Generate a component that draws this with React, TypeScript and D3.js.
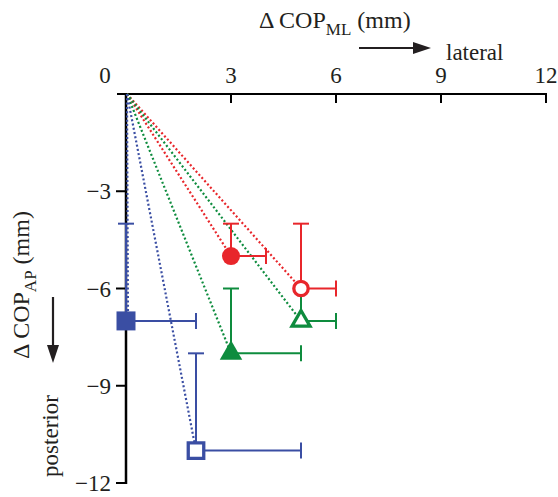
import React from "react";
import * as d3 from "d3";

const seriesNames = ["redFilled", "redOpen", "greenFilled", "greenOpen", "blueFilled", "blueOpen"];
const mlMean = [3, 5, 3, 5, 0, 2];
const apMean = [-5, -6, -8, -7, -7, -11];
const mlErr = [1, 1, 2, 1, 2, 3];
const apErr = [1, 2, 2, 1, 3, 3];
const seriesColor = ["#e8262b", "#e8262b", "#0e8c3e", "#0e8c3e", "#3a4ea3", "#3a4ea3"];
const seriesShape = ["circle", "circle", "triangle", "triangle", "square", "square"];
const seriesFilled = [true, false, true, false, true, false];
const xTicks = [0, 3, 6, 9, 12];
const yTicks = [-3, -6, -9, -12];

const W = 558;
const H = 497;
const FONT = "Liberation Serif, Times New Roman, serif";
const FS = 23;
const TFS = 24;
const SUB = 17;

export default function App() {
  const x = d3.scaleLinear().domain([0, 12]).range([126, 546]);
  const y = d3.scaleLinear().domain([0, -12]).range([94, 483]);
  const x0 = x(0);
  const y0 = y(0);

  const symbolPath = (shape: string, filled: boolean) => {
    let type: any = d3.symbolCircle;
    let size = 0;
    if (shape === "circle") {
      type = d3.symbolCircle;
      size = filled ? Math.PI * 9 * 9 : Math.PI * 7.2 * 7.2;
    } else if (shape === "square") {
      type = d3.symbolSquare;
      size = filled ? 19 * 19 : 15.5 * 15.5;
    } else {
      type = d3.symbolTriangle;
      const s = filled ? 22.5 : 18;
      size = (Math.sqrt(3) / 4) * s * s;
    }
    return d3.symbol().type(type).size(size)() as string;
  };

  const cap = 8;
  const txt = { fontFamily: FONT, fill: "#231f20" } as const;

  return (
    <svg width={W} height={H} style={{ position: "absolute", left: 0, top: 0 }}>
      {/* Title */}
      <text x={259} y={28} fontSize={TFS} style={txt}>
        Δ COP
        <tspan fontSize={SUB} dy={7}>ML</tspan>
        <tspan dy={-7}> (mm)</tspan>
      </text>
      <line x1={359} y1={48} x2={416} y2={48} stroke="#231f20" strokeWidth={2.2} />
      <path d="M431,48 L413,42 L413,54 Z" fill="#231f20" />
      <text x={446} y={60} fontSize={FS} style={txt}>lateral</text>

      {/* Y label */}
      <text transform={`translate(29,285) rotate(-90)`} fontSize={TFS} textAnchor="middle" style={txt}>
        Δ COP
        <tspan fontSize={SUB} dy={7}>AP</tspan>
        <tspan dy={-7}> (mm)</tspan>
      </text>
      <line x1={53} y1={297} x2={53} y2={346} stroke="#231f20" strokeWidth={2.2} />
      <path d="M53,363 L47,345 L59,345 Z" fill="#231f20" />
      <text transform={`translate(58,436) rotate(-90)`} fontSize={FS} textAnchor="middle" style={txt}>
        posterior
      </text>

      {/* X axis */}
      <line x1={117} y1={y0} x2={x(12) + 1} y2={y0} stroke="#000" strokeWidth={2} />
      {xTicks.map((t) => (
        <g key={"xt" + t}>
          {t !== 0 && <line x1={x(t)} y1={y0} x2={x(t)} y2={y0 + 9} stroke="#000" strokeWidth={2} />}
          <text x={t === 0 ? x(t) - 21 : x(t)} y={83} fontSize={FS} textAnchor="middle" style={txt}>
            {t}
          </text>
        </g>
      ))}
      {/* Y axis */}
      <line x1={x0} y1={y0 - 1} x2={x0} y2={y(-12) + 1} stroke="#000" strokeWidth={2.5} />
      {yTicks.map((t) => (
        <g key={"yt" + t}>
          <line x1={x0 - 10} y1={y(t)} x2={x0} y2={y(t)} stroke="#000" strokeWidth={2} />
          <text x={111} y={y(t) + 8} fontSize={FS} textAnchor="end" style={txt}>
            {"\u2212" + Math.abs(t)}
          </text>
        </g>
      ))}

      {/* Dotted lines from origin */}
      {seriesNames.map((n, i) => (
        <line
          key={"dl" + n}
          x1={x0 + 1}
          y1={y0}
          x2={x(mlMean[i]) + (mlMean[i] === 0 ? 2 : 0)}
          y2={y(apMean[i])}
          stroke={seriesColor[i]}
          strokeWidth={2.2}
          strokeDasharray="2,2.3"
        />
      ))}

      {/* Error bars */}
      {seriesNames.map((n, i) => {
        const cx = x(mlMean[i]);
        const cy = y(apMean[i]);
        const ex = x(mlMean[i] + mlErr[i]);
        const ey = y(apMean[i] + apErr[i]);
        const c = seriesColor[i];
        return (
          <g key={"eb" + n} stroke={c} strokeWidth={2}>
            <line x1={cx} y1={cy} x2={ex} y2={cy} />
            <line x1={ex} y1={cy - cap} x2={ex} y2={cy + cap} />
            <line x1={cx} y1={cy} x2={cx} y2={ey} />
            <line x1={cx - cap} y1={ey} x2={cx + cap} y2={ey} />
          </g>
        );
      })}

      {/* Markers */}
      {seriesNames.map((n, i) => {
        const cx = x(mlMean[i]);
        const cy = y(apMean[i]);
        const c = seriesColor[i];
        const f = seriesFilled[i];
        return (
          <path
            key={"mk" + n}
            transform={`translate(${cx},${cy})`}
            d={symbolPath(seriesShape[i], f)}
            fill={f ? c : "#fff"}
            stroke={f ? "none" : c}
            strokeWidth={f ? 0 : 3.3}
          />
        );
      })}
    </svg>
  );
}
